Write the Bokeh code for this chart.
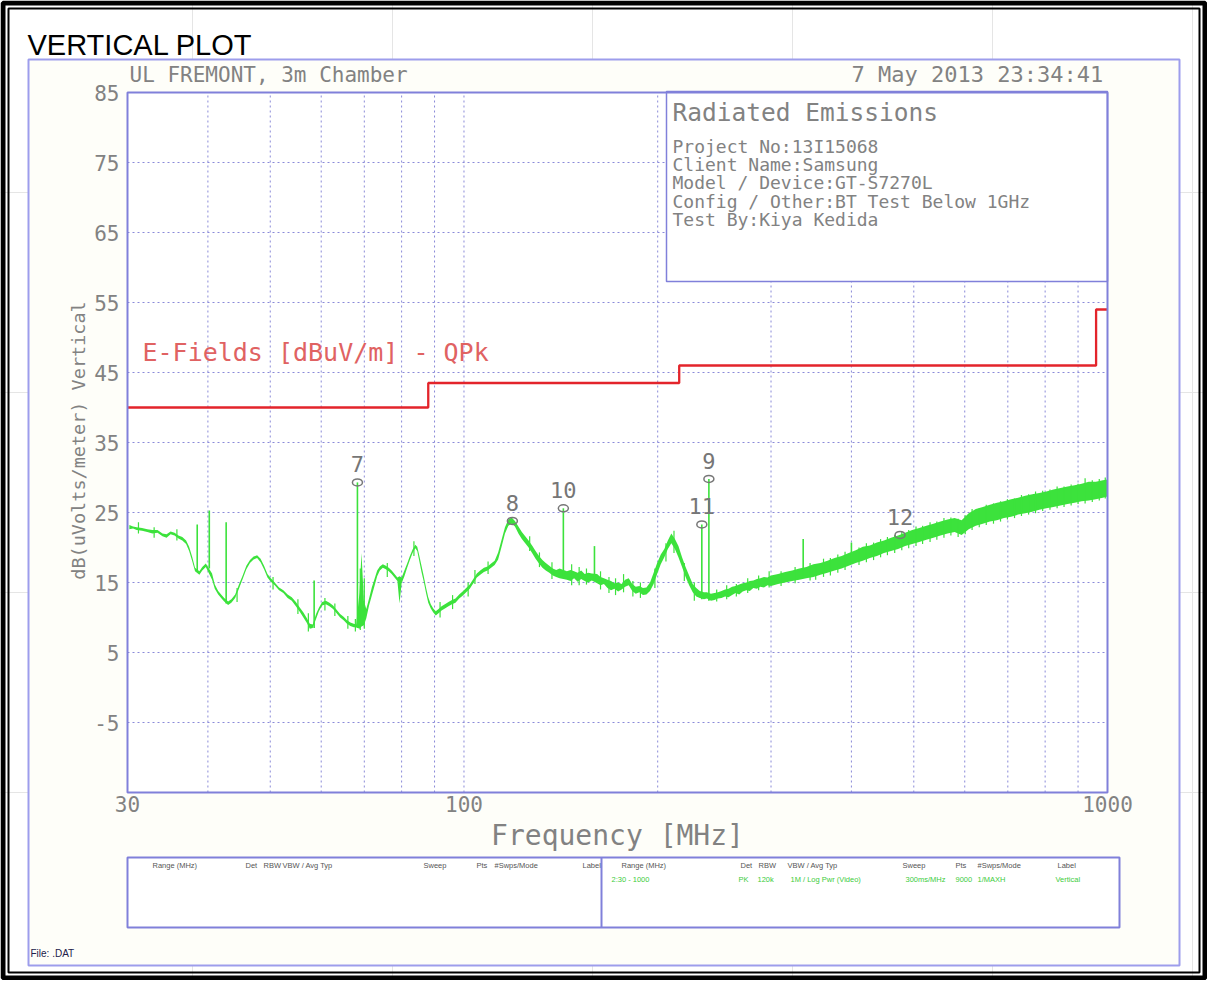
import math
from bokeh.plotting import figure
from bokeh.models import Range1d, LogScale
from bokeh.core.properties import value
from bokeh.embed import file_html
from bokeh.resources import INLINE

# ---------------- data ----------------
trace_freq = [30.2, 30.6, 31.0, 31.6, 32.2, 32.8, 33.4, 34.0, 34.5, 35.0, 35.5, 36.0, 36.5, 37.0,
              37.4, 37.8, 38.2, 38.8, 39.2, 39.7, 40.6, 41.0, 41.5, 42.0, 42.4, 43.0, 43.5, 44.1,
              44.7, 45.3, 45.9, 46.5, 47.1, 47.7, 48.3, 48.9, 49.5, 50.1, 50.8, 51.6, 52.4, 53.2,
              54.0, 54.8, 55.6, 56.3, 57.0, 57.6, 58.2, 58.9, 59.5, 60.2, 61.0, 61.8, 62.6, 63.4,
              64.2, 65.0, 65.8, 66.6, 67.4, 68.0, 68.8, 69.3, 69.9, 70.5, 71.2, 71.9, 72.6, 73.3,
              74.0, 74.8, 75.6, 76.4, 77.2, 78.0, 78.8, 79.4, 80.0, 80.8, 81.6, 82.4, 83.2, 84.0,
              84.6, 85.2, 85.9, 86.6, 87.3, 88.0, 88.8, 89.6, 90.4, 91.3, 92.3, 93.4, 94.6, 95.8,
              97.0, 98.3, 99.5, 100.8, 102.1, 103.4, 104.7, 106.0, 107.4, 108.8, 110.2, 111.6,
              113.0, 114.4, 115.8, 117.2, 118.6, 120.0, 121.5, 123.0, 124.5, 126.0, 127.6, 129.2,
              130.8, 132.4, 134.0, 135.7, 137.4, 139.1, 140.8, 144.5, 146.4, 148.3, 150.2, 152.1,
              154.0, 156.0, 158.0, 161.0, 163.0, 165.0, 167.1, 169.2, 171.4, 173.6, 175.8, 178.0,
              180.3, 182.6, 184.9, 187.3, 189.7, 192.1, 194.6, 197.1, 199.6, 202.2, 204.8, 207.4,
              210.0, 212.7, 215.4, 218.2, 221.0, 223.8, 226.7, 229.6, 232.5, 236.0, 238.5, 242.0,
              245.0, 248.1, 251.3, 254.5, 257.7, 261.0, 264.3, 267.7, 271.1, 274.6, 278.1, 281.6,
              285.2, 288.8, 292.5, 296.2, 300.0, 307.7, 315.6, 323.6, 331.9, 340.4, 349.1, 358.0,
              367.2, 376.6, 386.2, 396.1, 406.2, 416.6, 427.3, 438.2, 449.4, 460.9, 472.7, 484.8,
              497.2, 509.9, 523.0, 536.3, 550.1, 564.2, 578.6, 593.4, 608.6, 624.2, 640.1, 656.5,
              673.3, 690.5, 708.2, 726.3, 744.9, 763.9, 783.5, 803.5, 824.1, 845.2, 866.8, 889.0,
              911.8, 935.1, 959.1, 983.6, 1000.0]
trace_lo = [22.6, 22.7, 22.5, 22.4, 22.2, 22.0, 22.1, 21.6, 21.4, 21.9, 21.7, 21.3, 21.0, 20.5,
            19.5, 18.1, 16.6, 16.1, 16.7, 17.2, 15.4, 14.1, 13.3, 12.7, 12.3, 11.8, 12.1, 12.8,
            14.1, 15.5, 16.9, 17.8, 18.3, 18.5, 17.9, 16.9, 15.7, 15.1, 14.6, 13.9, 13.5, 12.8,
            12.4, 11.6, 10.8, 10.0, 9.2, 8.4, 8.5, 9.8, 10.9, 11.7, 11.9, 11.6, 11.2, 10.6,
            10.0, 9.6, 9.1, 8.8, 8.6, 8.6, 8.4, 8.7, 8.9, 9.9, 11.7, 13.1, 14.5, 15.9,
            16.7, 17.1, 16.9, 16.6, 16.2, 15.7, 15.2, 12.0, 14.9, 15.9, 17.1, 18.2, 19.2, 19.9,
            19.5, 18.1, 16.5, 15.1, 13.5, 12.1, 11.3, 10.7, 10.3, 10.6, 11.0, 11.3, 11.6, 11.9,
            12.1, 12.7, 13.1, 13.6, 14.1, 14.9, 15.7, 16.1, 16.5, 16.7, 17.1, 17.5,
            18.3, 20.1, 22.0, 23.1, 23.4, 23.0, 22.0, 21.2, 20.6, 20.0, 19.2, 18.4,
            17.7, 17.1, 16.7, 16.4, 16.0, 15.8, 15.6, 15.4, 15.2, 15.6, 15.1, 15.5,
            15.2, 15.0, 15.3, 14.9, 14.6, 14.8, 14.2, 13.9, 14.1, 13.7, 14.0, 14.4,
            14.6, 13.8, 13.4, 13.6, 13.2, 13.3, 13.8, 14.8, 16.2, 17.6, 18.6, 19.8,
            20.6, 19.8, 18.6, 17.2, 15.8, 14.6, 13.6, 13.0, 12.8, 12.6, 12.7, 12.4,
            12.5, 12.7, 12.8, 13.0, 12.9, 13.2, 13.5, 13.3, 13.7, 13.9, 13.8, 14.2,
            14.1, 14.4, 14.3, 14.6, 14.5, 14.8, 15.0, 15.2, 15.4, 15.6, 15.8, 16.1,
            16.4, 16.7, 17.0, 17.4, 17.8, 18.1, 18.5, 18.8, 19.2, 19.5, 19.8, 20.2,
            20.5, 20.8, 21.1, 21.4, 21.7, 22.0, 22.2, 21.8, 22.6, 23.1, 23.4, 23.7,
            23.9, 24.2, 24.4, 24.7, 24.9, 25.1, 25.4, 25.6, 25.8, 26.0, 26.2, 26.4,
            26.6, 26.7, 26.9, 27.1, 27.3]
trace_hi = [23.2, 23.0, 22.9, 22.8, 22.6, 22.5, 22.5, 22.0, 21.9, 22.3, 22.1, 21.7, 21.5, 21.0,
            20.1, 18.7, 17.1, 16.6, 17.2, 17.7, 16.3, 14.7, 13.8, 13.2, 12.8, 12.3, 12.6, 13.3,
            14.7, 16.0, 17.4, 18.2, 18.7, 18.9, 18.4, 17.4, 16.2, 15.6, 15.0, 14.3, 13.9, 13.3,
            12.9, 12.2, 11.4, 10.7, 9.9, 9.1, 9.0, 10.5, 11.4, 12.2, 12.4, 12.1, 11.7, 11.1,
            10.5, 10.1, 9.6, 9.3, 9.1, 9.0, 13.5, 19.2, 12.4, 11.2, 12.7, 14.3, 15.5, 16.7,
            17.3, 17.6, 17.4, 17.1, 16.7, 16.2, 15.7, 15.9, 15.7, 16.7, 17.7, 18.8, 19.7, 20.4,
            20.1, 18.9, 17.4, 15.9, 14.3, 12.9, 11.9, 11.3, 10.9, 11.2, 11.6, 11.9, 12.2, 12.5,
            12.7, 13.3, 13.7, 14.2, 14.7, 15.5, 16.3, 16.7, 17.1, 17.3, 17.7, 18.1,
            19.3, 21.1, 22.9, 24.0, 24.3, 23.8, 23.0, 22.2, 21.6, 21.0, 20.3, 19.5,
            18.8, 18.2, 17.8, 17.4, 17.0, 16.8, 17.0, 16.6, 16.8, 16.6, 16.4, 16.7,
            16.2, 16.4, 16.3, 16.2, 15.8, 15.6, 15.4, 15.2, 14.9, 15.0, 14.8, 15.4,
            15.6, 14.8, 14.4, 14.5, 14.2, 14.3, 15.0, 16.4, 17.8, 19.0, 19.8, 21.0,
            22.0, 21.2, 20.2, 18.6, 17.2, 16.0, 14.8, 14.2, 13.8, 13.6, 13.6, 13.4,
            13.5, 13.6, 13.8, 14.0, 14.1, 14.4, 14.5, 14.7, 14.9, 15.0, 15.2, 15.3,
            15.5, 15.6, 15.8, 15.7, 16.0, 16.2, 16.5, 16.7, 17.0, 17.2, 17.6, 17.8,
            18.1, 18.5, 18.8, 19.2, 19.6, 20.1, 20.3, 20.7, 21.0, 21.4, 21.7, 22.1,
            22.5, 22.8, 23.1, 23.4, 23.7, 24.0, 24.2, 23.9, 24.9, 25.5, 25.8, 26.1,
            26.4, 26.6, 26.9, 27.1, 27.4, 27.6, 27.8, 28.0, 28.3, 28.5, 28.7, 28.9,
            29.1, 29.4, 29.4, 29.6, 29.7]

# short noise excursions of the trace (freq, low, high)
noise_freq = [31.2, 33.0, 35.8, 44.4, 50.5, 55.2, 57.3, 60.8, 63.0, 66.0, 67.8, 69.0, 70.0, 76.0,
              83.6, 91.8, 96.0, 101.5, 104.0, 109.0, 126.5, 131.0, 137.0, 147.0, 151.0, 155.0,
              163.0, 168.0, 172.0, 177.0, 183.0, 188.0, 198.0, 206.0, 212.0, 220.0, 228.0, 247.0,
              256.0, 265.0, 276.0, 287.0, 298.0, 311.0, 327.0, 345.0, 352.0, 362.0, 371.0, 381.0,
              391.0, 411.0, 422.0, 433.0, 444.0, 455.0, 467.0, 479.0, 491.0, 504.0, 516.0, 530.0,
              543.0, 557.0, 571.0, 586.0, 601.0, 616.0, 632.0, 648.0, 665.0, 682.0, 699.0, 717.0,
              735.0, 754.0, 773.0, 793.0, 814.0, 835.0, 856.0, 878.0, 900.0, 923.0, 947.0, 971.0,
              992.0]
noise_lo = [22.0, 21.4, 21.0, 12.2, 14.0, 10.5, 8.0, 11.0, 10.2, 8.4, 8.0, 8.2, 8.4, 15.8,
            18.8, 10.0, 11.2, 13.0, 14.8, 16.2, 19.5, 17.2, 15.5, 14.6, 14.6, 14.7,
            14.0, 13.5, 13.2, 13.6, 13.0, 12.8, 14.2, 18.0, 19.2, 15.2, 12.4, 12.3,
            12.6, 13.0, 13.5, 13.9, 14.3, 14.5, 14.9, 15.3, 15.4, 15.8, 16.0, 16.4,
            16.8, 17.5, 17.9, 18.2, 18.6, 18.9, 19.2, 19.6, 19.9, 20.2, 20.5, 20.8,
            21.1, 21.4, 21.7, 21.5, 21.9, 22.5, 22.9, 23.2, 23.4, 23.7, 24.0, 24.2,
            24.5, 24.7, 24.9, 25.2, 25.4, 25.6, 25.8, 26.0, 26.2, 26.3, 26.5, 26.7,
            27.0]
noise_hi = [23.6, 22.9, 22.6, 14.2, 15.8, 12.6, 10.6, 12.8, 12.0, 10.2, 9.8, 17.0, 15.6, 17.8,
            20.9, 12.2, 13.2, 15.0, 16.8, 18.0, 21.6, 19.3, 17.9, 17.6, 17.2, 17.0,
            16.6, 15.8, 15.6, 16.2, 15.2, 15.0, 17.0, 20.6, 22.4, 17.8, 15.0, 14.0,
            14.6, 14.8, 15.6, 16.0, 16.6, 16.6, 17.2, 17.8, 17.6, 18.4, 18.5, 19.0,
            19.4, 20.0, 20.6, 20.7, 21.2, 21.5, 21.8, 22.3, 22.5, 23.0, 23.1, 23.6,
            23.7, 24.2, 24.3, 24.1, 24.6, 25.5, 25.6, 26.1, 26.3, 26.6, 26.9, 27.0,
            27.5, 27.6, 28.0, 28.1, 28.3, 28.7, 28.7, 29.0, 29.1, 29.9, 29.6, 29.8,
            30.0]

spike_freq = [38.5, 40.2, 42.7, 58.5, 68.3, 142.7, 159.5, 234.2, 240.2, 336.6, 400.0]
spike_base = [16.5, 17.0, 12.0, 8.5, 8.5, 16.0, 15.5, 12.6, 12.4, 16.0, 18.0]
spike_top = [23.3, 25.3, 23.6, 15.3, 29.3, 25.6, 20.2, 23.3, 29.8, 21.2, 20.7]

marker_ids = ["7", "8", "9", "10", "11", "12"]
marker_freq = [68.3, 118.9, 240.2, 142.7, 234.2, 476.0]
marker_level = [29.3, 23.8, 29.8, 25.6, 23.3, 21.8]

limit_freq = [30, 88, 216, 960, 1000]
limit_level = [40, 43.5, 46, 54, 54]

x_min, x_max = 30, 1000
y_min, y_max = -15, 85
x_ticks = [30, 100, 1000]
x_tick_labels = ["30", "100", "1000"]
y_ticks = [85, 75, 65, 55, 45, 35, 25, 15, 5, -5]
y_tick_labels = ["85", "75", "65", "55", "45", "35", "25", "15", "5", "-5"]
x_grid = [40, 50, 60, 70, 80, 90, 100, 200, 300, 400, 500, 600, 700, 800, 900]
y_grid = [75, 65, 55, 45, 35, 25, 15, 5, -5]

info_lines = ["Project No:13I15068", "Client Name:Samsung", "Model / Device:GT-S7270L",
              "Config / Other:BT Test Below 1GHz", "Test By:Kiya Kedida"]
footer_heads = ["Range (MHz)", "Det", "RBW", "VBW / Avg Typ", "Sweep", "Pts", "#Swps/Mode", "Label"]
footer_vals = ["2:30 - 1000", "PK", "120k", "1M / Log Pwr (Video)", "300ms/MHz", "9000", "1/MAXH", "Vertical"]

# ---------------- layout (page pixels) ----------------
W, H = 1207, 980
X0, Y0 = 8, 8
PL, PR, PT, PB = 135, 1115, 100, 800
k = (PR - PL) / math.log10(x_max / x_min)
f_lo = x_min * 10 ** ((X0 - PL) / k)
f_hi = x_max * 10 ** ((X0 + W - PR) / k)
py = (PB - PT) / (y_max - y_min)
db_top = y_max + (PT - Y0) / py
db_bot = y_min - (Y0 + H - PB) / py
BF = 8  # baseline correction for alphabetic texts

MONO = value("DejaVu Sans Mono")
SANS = value("Liberation Sans")
GRAY = "#828282"
BLUE = "#8080da"
GREEN = "#3ce23c"

p = figure(width=W, height=H, output_backend="svg", toolbar_location=None,
           x_axis_location=None, y_axis_location=None, min_border=0,
           outline_line_color=None, x_range=Range1d(X0, X0 + W), y_range=Range1d(Y0 + H, Y0))
p.extra_x_ranges = {"f": Range1d(f_lo, f_hi)}
p.extra_x_scales = {"f": LogScale()}
p.extra_y_ranges = {"db": Range1d(db_bot, db_top)}
p.background_fill_color = "white"
p.border_fill_color = "white"
D = dict(x_range_name="f", y_range_name="db")

# page borders
p.quad(left=[X0 + 2.5], right=[X0 + W - 2.5], top=[Y0 + 2.5], bottom=[Y0 + H - 2.5],
       fill_color=None, line_color="black", line_width=5)
p.quad(left=[X0 + 8], right=[X0 + W - 8], top=[Y0 + 8], bottom=[Y0 + H - 8],
       fill_color=None, line_color="black", line_width=2)
p.quad(left=[36], right=[1187], top=[67], bottom=[973],
       fill_color="#fefef9", line_color="#9d9dec", line_width=2)

# plot area
p.quad(left=[x_min], right=[x_max], top=[y_max], bottom=[y_min], fill_color="white", line_color=None, **D)
p.segment(x0=x_grid, y0=[y_min] * len(x_grid), x1=x_grid, y1=[y_max] * len(x_grid),
          line_color="#8a8ad8", line_dash="2 3", line_width=1, **D)
p.segment(x0=[x_min] * len(y_grid), y0=y_grid, x1=[x_max] * len(y_grid), y1=y_grid,
          line_color="#8a8ad8", line_dash="2 3", line_width=1, **D)

# info box
p.quad(left=[674], right=[1115], top=[99], bottom=[289], fill_color="white", line_color=BLUE, line_width=1.5)
p.text(x=[680], y=[128 - BF], text=["Radiated Emissions"], text_font=MONO, text_font_size="24.5px",
       text_color=GRAY, text_baseline="alphabetic")
p.text(x=[680] * len(info_lines), y=[162 - BF + 18.2 * i for i in range(len(info_lines))], text=info_lines,
       text_font=MONO, text_font_size="18px", text_color=GRAY, text_baseline="alphabetic")

# limit line and label
p.step(x=limit_freq, y=limit_level, mode="after", line_color="#e3242b", line_width=2.3, **D)
p.text(x=[150], y=[368 - BF], text=["E-Fields [dBuV/m] - QPk"], text_font=MONO, text_font_size="25px",
       text_color="#e06262", text_baseline="alphabetic")

# trace
p.varea(x=trace_freq, y1=trace_lo, y2=trace_hi, fill_color=GREEN, **D)
p.segment(x0=noise_freq, y0=noise_lo, x1=noise_freq, y1=noise_hi, line_color=GREEN, line_width=1.2, **D)
p.segment(x0=spike_freq, y0=spike_base, x1=spike_freq, y1=spike_top, line_color=GREEN, line_width=1.6, **D)

# markers
p.ellipse(x=marker_freq, y=marker_level, width=10, height=7, width_units="screen", height_units="screen",
          fill_color=None, line_color="#777777", line_width=1.5, **D)
p.text(x=marker_freq, y=marker_level, text=marker_ids, y_offset=-18, text_align="center",
       text_baseline="middle", text_font=MONO, text_font_size="22px", text_color="#767676", **D)

# plot frame
p.quad(left=[x_min], right=[x_max], top=[y_max], bottom=[y_min], fill_color=None,
       line_color=BLUE, line_width=2, **D)

# tick labels
p.text(x=[x_min] * len(y_ticks), y=y_ticks, text=y_tick_labels, x_offset=-8, text_align="right",
       text_baseline="middle", text_font=MONO, text_font_size="21px", text_color=GRAY, **D)
p.text(x=x_ticks, y=[y_min] * len(x_ticks), text=x_tick_labels, y_offset=3, text_align="center",
       text_baseline="top", text_font=MONO, text_font_size="21px", text_color=GRAY, **D)

# axis titles and headers
p.text(x=[(PL + PR) / 2], y=[851 - BF], text=["Frequency [MHz]"], text_align="center",
       text_baseline="alphabetic", text_font=MONO, text_font_size="28px", text_color=GRAY)
p.text(x=[86], y=[(PT + PB) / 2 - 2], text=["dB(uVolts/meter) Vertical"], angle=math.pi / 2,
       text_align="center", text_baseline="middle", text_font=MONO, text_font_size="18.5px", text_color=GRAY)
p.text(x=[137], y=[90 - BF], text=["UL FREMONT, 3m Chamber"], text_font=MONO, text_font_size="21px",
       text_color=GRAY, text_baseline="alphabetic")
p.text(x=[1124], y=[90 - BF], text=["7 May 2013  23:34:41"], text_align="right", text_font=MONO,
       text_font_size="22px", text_color=GRAY, text_baseline="alphabetic")
p.text(x=[35], y=[60 - BF], text=["VERTICAL PLOT"], text_font=SANS, text_font_size="29px",
       text_color="black", text_baseline="alphabetic")

# footer table
p.quad(left=[135], right=[1127], top=[865], bottom=[935], fill_color="white", line_color=BLUE, line_width=2)
p.segment(x0=[609], y0=[865], x1=[609], y1=[935], line_color=BLUE, line_width=2)
left_cols = [160, 253, 271, 290, 431, 484, 502, 590]
right_cols = [629, 748, 766, 795, 910, 963, 985, 1065]
val_cols = [619, 746, 765, 798, 913, 963, 985, 1063]
p.text(x=left_cols, y=[873] * 8, text=footer_heads, text_font=SANS, text_font_size="7.5px",
       text_color="#555555", text_baseline="middle")
p.text(x=right_cols, y=[873] * 8, text=footer_heads, text_font=SANS, text_font_size="7.5px",
       text_color="#555555", text_baseline="middle")
p.text(x=val_cols, y=[887] * 8, text=footer_vals, text_font=SANS, text_font_size="7.5px",
       text_color="#3ccc3c", text_baseline="middle")
p.text(x=[38], y=[969 - BF], text=["File: .DAT"], text_font=SANS, text_font_size="10px",
       text_color="#20204a", text_baseline="alphabetic")

open("out.html", "w").write(file_html(p, INLINE))
